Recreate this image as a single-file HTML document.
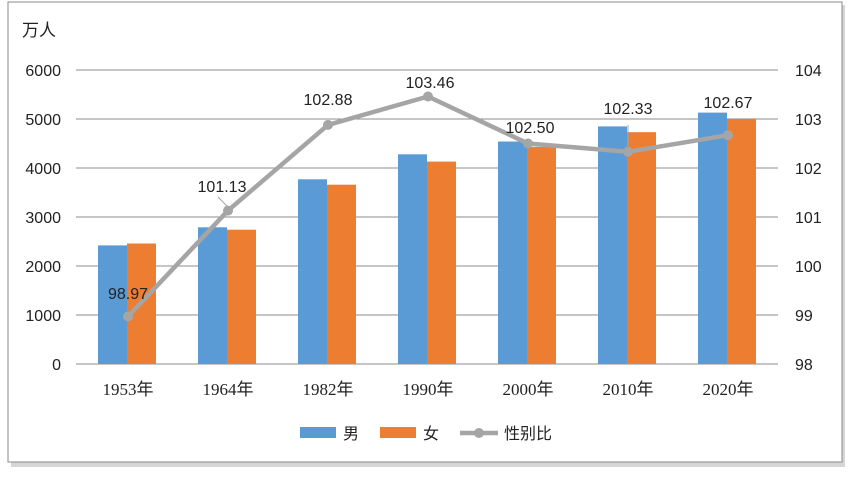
<!DOCTYPE html>
<html><head><meta charset="utf-8"><style>
body{margin:0;background:#fff;width:852px;height:476px;overflow:hidden}
text{font-family:"Liberation Sans","Noto Sans CJK SC",sans-serif;fill:#222}
.s{font-family:"Liberation Serif","Noto Sans CJK SC",serif}
</style></head><body>
<svg width="852" height="476" xmlns="http://www.w3.org/2000/svg">
<rect x="11" y="5" width="834" height="462" fill="#bbb" opacity="0.6"/>
<rect x="8" y="2" width="834" height="460" fill="#fff" stroke="#8a8a8a" stroke-width="1"/>
<text x="22" y="36" font-size="17">万人</text>
<g stroke="#8c8c8c" stroke-width="1">
<line x1="76" y1="70" x2="778" y2="70"/><line x1="76" y1="119" x2="778" y2="119"/>
<line x1="76" y1="168" x2="778" y2="168"/><line x1="76" y1="217" x2="778" y2="217"/>
<line x1="76" y1="266" x2="778" y2="266"/><line x1="76" y1="315" x2="778" y2="315"/>
<line x1="76" y1="364" x2="778" y2="364"/></g>
<g font-size="16" text-anchor="end">
<text x="61" y="76">6000</text><text x="61" y="125">5000</text><text x="61" y="174">4000</text>
<text x="61" y="223">3000</text><text x="61" y="272">2000</text><text x="61" y="321">1000</text><text x="61" y="370">0</text></g>
<g font-size="16">
<text x="795" y="76">104</text><text x="795" y="125">103</text><text x="795" y="174">102</text>
<text x="795" y="223">101</text><text x="795" y="272">100</text><text x="795" y="321">99</text><text x="795" y="370">98</text></g>
<g fill="#5b9bd5">
<rect x="98" y="245.4" width="29" height="118.6"/><rect x="198" y="227.3" width="29" height="136.7"/>
<rect x="298" y="179.3" width="29" height="184.7"/><rect x="398" y="154.3" width="29" height="209.7"/>
<rect x="498" y="141.5" width="29" height="222.5"/><rect x="598" y="126.4" width="29" height="237.6"/>
<rect x="698" y="112.6" width="29" height="251.4"/></g>
<g fill="#ed7d31">
<rect x="127" y="243.5" width="29" height="120.5"/><rect x="227" y="229.7" width="29" height="134.3"/>
<rect x="327" y="184.7" width="29" height="179.3"/><rect x="427" y="161.6" width="29" height="202.4"/>
<rect x="527" y="146.9" width="29" height="217.1"/><rect x="627" y="132.2" width="29" height="231.8"/>
<rect x="727" y="119" width="29" height="245"/></g>
<polyline points="128,316.5 228,210.6 328,124.9 428,96.5 528,143.5 628,151.8 728,135.2" fill="none" stroke="#a5a5a5" stroke-width="4.5" stroke-linejoin="round"/>
<g fill="#a5a5a5">
<circle cx="128" cy="316.5" r="5"/><circle cx="228" cy="210.6" r="5"/><circle cx="328" cy="124.9" r="5"/>
<circle cx="428" cy="96.5" r="5"/><circle cx="528" cy="143.5" r="5"/><circle cx="628" cy="151.8" r="5"/><circle cx="728" cy="135.2" r="5"/></g>
<line x1="218" y1="197" x2="228" y2="207" stroke="#a5a5a5"/>
<line x1="628" y1="125" x2="628" y2="146" stroke="#a5a5a5"/>
<g font-size="16" text-anchor="middle">
<text x="128" y="299">98.97</text><text x="222" y="192">101.13</text><text x="328" y="105">102.88</text>
<text x="430" y="88">103.46</text><text x="530" y="133">102.50</text><text x="628" y="114">102.33</text><text x="728" y="108">102.67</text></g>
<g font-size="17" text-anchor="middle" class="s">
<text class="s" x="128" y="395">1953年</text><text class="s" x="228" y="395">1964年</text><text class="s" x="328" y="395">1982年</text>
<text class="s" x="428" y="395">1990年</text><text class="s" x="528" y="395">2000年</text><text class="s" x="628" y="395">2010年</text><text class="s" x="728" y="395">2020年</text></g>
<rect x="300" y="427" width="36" height="11" fill="#5b9bd5"/><text x="343" y="439" font-size="16">男</text>
<rect x="380" y="427" width="36" height="11" fill="#ed7d31"/><text x="423" y="439" font-size="16">女</text>
<line x1="460" y1="433" x2="498" y2="433" stroke="#a5a5a5" stroke-width="4.5"/><circle cx="479" cy="433" r="5" fill="#a5a5a5"/>
<text x="504" y="439" font-size="16">性别比</text>
</svg>
</body></html>
